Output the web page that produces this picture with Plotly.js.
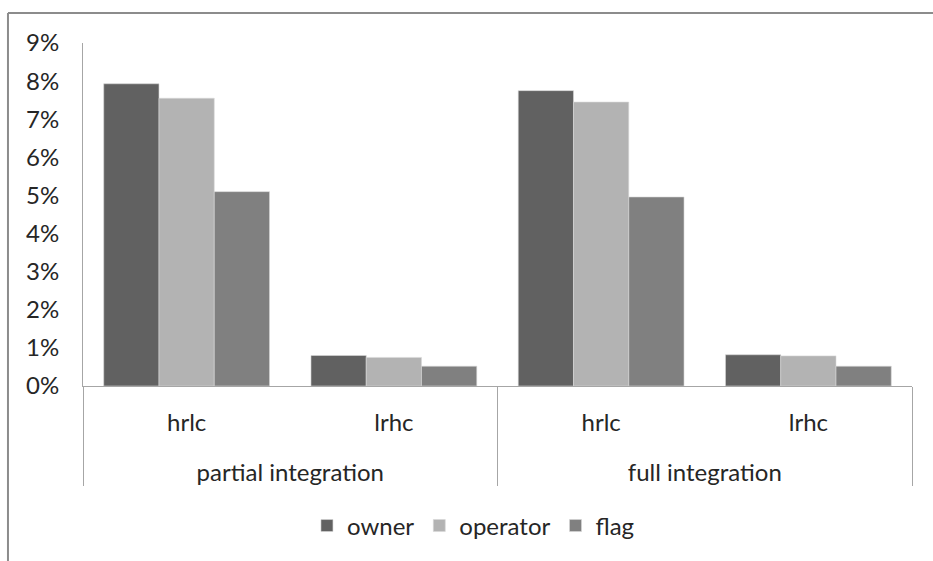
<!DOCTYPE html>
<html>
<head>
<meta charset="utf-8">
<script src="https://cdn.plot.ly/plotly-3.0.1.min.js"></script>
<style>
html,body{margin:0;padding:0;background:#fff;}
#chart{width:933px;height:561px;}
</style>
</head>
<body>
<div id="chart"></div>
<script>
var groups = ['partial integration', 'partial integration', 'full integration', 'full integration'];
var subcats = ['hrlc', 'lrhc', 'hrlc', 'lrhc'];
var seriesNames = ['owner', 'operator', 'flag'];
var owner = [0.0793, 0.0080, 0.0775, 0.0082];
var operator = [0.0755, 0.0075, 0.0745, 0.0079];
var flag = [0.0510, 0.0052, 0.0496, 0.0052];
var colors = ['#616161', '#b3b3b3', '#808080'];

// display versions of the category labels (larger glyphs, extra line before the group row)
var LABEL_SIZE = 24;
function big(s) { return '<span style="font-size:' + LABEL_SIZE + 'px">' + s + '</span>'; }
var subLabels = subcats.map(big);
var groupLabels = groups.map(function (g) { return '<br>' + big(g); });

var values = [owner, operator, flag];
var traces = values.map(function (v, i) {
  return {
    type: 'bar',
    name: seriesNames[i],
    x: [groupLabels, subLabels],
    y: v,
    marker: {color: colors[i], line: {color: '#d9d9d9', width: 0.6}},
    hoverinfo: 'none'
  };
});

var FONT = 'Lato, "Open Sans", sans-serif';
var layout = {
  width: 933,
  height: 561,
  margin: {l: 83, r: 21, t: 43, b: 175},
  paper_bgcolor: '#ffffff',
  plot_bgcolor: '#ffffff',
  font: {family: FONT, size: 24, color: '#262626'},
  barmode: 'group',
  bargap: 0.2,
  bargroupgap: 0,
  showlegend: true,
  legend: {
    orientation: 'h',
    x: 0.471,
    xanchor: 'center',
    y: -0.408,
    yanchor: 'middle',
    font: {family: FONT, size: 24, color: '#262626'},
    traceorder: 'normal'
  },
  xaxis: {
    type: 'multicategory',
    showline: true,
    linecolor: '#a6a6a6',
    linewidth: 1,
    ticks: '',
    showgrid: false,
    showdividers: true,
    dividercolor: '#a6a6a6',
    dividerwidth: 1,
    ticklabelstandoff: 14,
    tickfont: {family: FONT, size: 25, color: '#262626'},
    fixedrange: true
  },
  yaxis: {
    range: [0, 0.09],
    dtick: 0.01,
    tick0: 0,
    tickformat: '.0%',
    showgrid: false,
    zeroline: false,
    showline: true,
    linecolor: '#a6a6a6',
    linewidth: 1,
    ticks: '',
    ticklabelstandoff: 18,
    tickfont: {family: FONT, size: 24, color: '#262626'},
    fixedrange: true
  },
  shapes: [
    {type: 'line', xref: 'paper', yref: 'paper', x0: -0.0905, x1: 1.03, y0: 1.0875, y1: 1.0875, line: {color: '#8c8c8c', width: 2}},
    {type: 'line', xref: 'paper', yref: 'paper', x0: -0.0905, x1: -0.0905, y0: 1.0875, y1: -0.51, line: {color: '#8c8c8c', width: 2}}
  ]
};

Plotly.newPlot('chart', traces, layout, {displayModeBar: false, staticPlot: true});
</script>
</body>
</html>
